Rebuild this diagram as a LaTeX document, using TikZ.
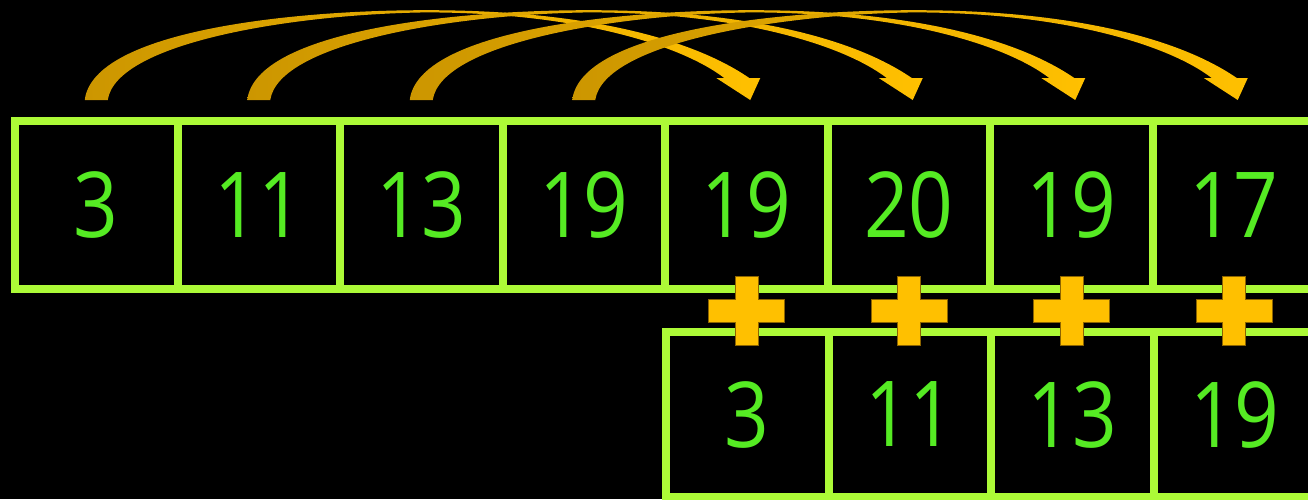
\documentclass[tikz,border=0pt]{standalone}
\usepackage{fontspec}
\setmainfont{Open Sans}[FakeStretch=0.86]
\usetikzlibrary{calc}
\definecolor{boxline}{RGB}{172,250,55}
\definecolor{digit}{RGB}{85,235,35}
\definecolor{golddark}{RGB}{204,150,0}
\definecolor{goldlight}{RGB}{255,192,0}
\definecolor{plusedge}{RGB}{140,100,0}
\begin{document}
\begin{tikzpicture}[x=0.5pt,y=-0.5pt,
  cellbase/.style={draw=boxline, line width=4pt, inner sep=0pt, outer sep=0pt,
    minimum width=81.25pt, anchor=north west, text=digit,
    font=\fontsize{45.5}{45.5}\selectfont},
  topcell/.style={cellbase, minimum height=84pt},
  lowcell/.style={cellbase, minimum height=82.5pt},
  jump/.style={left color=golddark, right color=goldlight},
  plussign/.style={fill=goldlight, draw=plusedge, line width=0.4pt}]

% page and clipping
\fill[black] (0,0) rectangle (1308,499);
\clip (0,0) rectangle (1308,499);

% second row of cells
\foreach \v [count=\j] in {3,11,13,19}
  \node[lowcell] (b\j) at ({666+162.5*(\j-1)},332) {\v};

% first row of cells
\foreach \v [count=\i] in {3,11,13,19,19,20,19,17}
  \node[topcell] (t\i) at ({15+162.5*(\i-1)},121) {\v};

% curved arrows from cell i to cell i+4
\foreach \i in {1,...,4}{
  \begin{scope}[shift={($(t\i.north)+(0,-21)$)}]
    \shade[jump]
      (-11.5,0) .. controls (-3,-70) and (200,-90) .. (330,-89.8)
      .. controls (480,-90) and (592,-64) .. (653,-22)
      -- (664,-22) -- (654,0) -- (620,-22) -- (628,-22)
      .. controls (585,-55) and (480,-87.5) .. (330,-87.6)
      .. controls (200,-86) and (20,-58) .. (11.5,0) -- cycle;
  \end{scope}
}

% plus signs between the rows
\foreach \i [evaluate=\i as \k using int(\i+4)] in {1,...,4}{
  \coordinate (p\i) at ($(t\k.south)!0.5!(b\i.north)$);
  \begin{scope}[shift={(p\i)}]
    \path[plussign]
      (-11.5,-34.5) -- (11.5,-34.5) -- (11.5,-11.5) -- (38,-11.5)
      -- (38,11.5) -- (11.5,11.5) -- (11.5,34.5) -- (-11.5,34.5)
      -- (-11.5,11.5) -- (-38,11.5) -- (-38,-11.5) -- (-11.5,-11.5) -- cycle;
  \end{scope}
}
\end{tikzpicture}
\end{document}
